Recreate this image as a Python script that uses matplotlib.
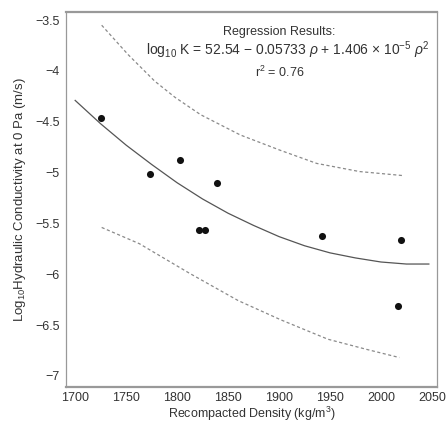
import matplotlib
matplotlib.use("Agg")
import matplotlib.pyplot as plt

plt.rcParams['font.family'] = ['Liberation Sans', 'DejaVu Sans']
plt.rcParams['mathtext.fontset'] = 'custom'
plt.rcParams['mathtext.rm'] = 'Liberation Sans'
plt.rcParams['mathtext.it'] = 'Liberation Sans:italic'
plt.rcParams['mathtext.bf'] = 'Liberation Sans:bold'

# Measured data points
density = [1725, 1773, 1803, 1839, 1821, 1827, 1942, 2020, 2017]
logk = [-4.46, -5.01, -4.88, -5.10, -5.57, -5.57, -5.62, -5.66, -6.31]

# Regression curve
fit_x = [1700, 1725, 1750, 1775, 1800, 1825, 1850, 1875, 1900, 1925, 1950, 1975, 2000, 2025, 2047]
fit_y = [-4.29, -4.52, -4.73, -4.92, -5.10, -5.26, -5.40, -5.52, -5.63, -5.72, -5.79, -5.84, -5.88, -5.90, -5.90]

# Upper / lower prediction bands
up_x = [1726, 1752, 1778, 1798, 1823, 1862, 1901, 1937, 1979, 2022]
up_y = [-3.55, -3.84, -4.10, -4.26, -4.43, -4.63, -4.78, -4.91, -4.99, -5.03]
lo_x = [1726, 1763, 1812, 1860, 1902, 1948, 1986, 2018]
lo_y = [-5.54, -5.70, -5.99, -6.26, -6.45, -6.64, -6.74, -6.82]

xticks = [1700, 1750, 1800, 1850, 1900, 1950, 2000, 2050]
yticks = [-3.5, -4, -4.5, -5, -5.5, -6, -6.5, -7]
yticklabels = ['\u22123.5', '\u22124', '\u22124.5', '\u22125', '\u22125.5', '\u22126', '\u22126.5', '\u22127']

fig = plt.figure(figsize=(4.47, 4.25), dpi=100)
ax = fig.add_axes([66/447, 1-387/425, 371/447, 375/425])

ax.plot(fit_x, fit_y, color='#555555', lw=0.9)
ax.plot(up_x, up_y, color='#8a8a8a', lw=0.9, ls=(0, (2.5, 2)))
ax.plot(lo_x, lo_y, color='#8a8a8a', lw=0.9, ls=(0, (2.5, 2)))
ax.scatter(density, logk, s=26, color='#111111', zorder=3, linewidths=0)

ax.set_xlim(1691, 2055)
ax.set_ylim(-7.11, -3.42)
ax.set_xticks(xticks)
ax.set_xticklabels([str(t) for t in xticks])
ax.set_yticks(yticks)
ax.set_yticklabels(yticklabels)
ax.tick_params(length=0, labelsize=9, colors='#333333')
ax.tick_params(axis='y', pad=4.5)
ax.tick_params(axis='x', pad=3.5)

for s in ax.spines.values():
    s.set_color('#999999')
    s.set_linewidth(0.9)
ax.spines['top'].set_linewidth(1.6)
ax.spines['bottom'].set_linewidth(1.6)

ax.set_xlabel('Recompacted Density (kg/m$^3$)', fontsize=9, color='#333333', labelpad=1)
ax.set_ylabel('Log$_{10}$Hydraulic Conductivity at 0 Pa (m/s)', fontsize=9.5, color='#333333', labelpad=5)

minus = '\u2212'
times = '\u00d7'
ax.text(0.574, 0.947, 'Regression Results:', transform=ax.transAxes, ha='center', va='center',
        fontsize=9, color='#333333')
ax.text(0.598, 0.899, 'log$_{10}$ K = 52.54 ' + minus + ' 0.05733 $\\rho$ + 1.406 ' + times + ' 10$^{' + minus + '5}$ $\\rho^2$',
        transform=ax.transAxes, ha='center', va='center', fontsize=10, color='#333333')
ax.text(0.577, 0.84, 'r$^2$ = 0.76', transform=ax.transAxes, ha='center', va='center',
        fontsize=9, color='#333333')

fig.savefig('out.png', dpi=100)
